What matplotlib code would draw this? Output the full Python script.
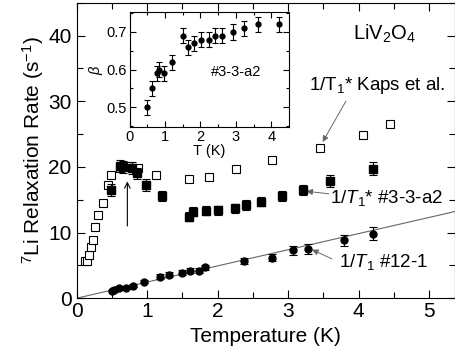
import matplotlib
matplotlib.use("Agg")
import matplotlib.pyplot as plt
import numpy as np

plt.rcParams['font.family'] = ['Liberation Sans', 'DejaVu Sans']
plt.rcParams['mathtext.fontset'] = 'custom'
plt.rcParams['mathtext.rm'] = 'Liberation Sans'
plt.rcParams['mathtext.it'] = 'Liberation Sans:italic'

# Kaps et al. 1/T1* (open squares)
kaps_T = [0.12, 0.15, 0.175, 0.2, 0.23, 0.26, 0.31, 0.38, 0.44, 0.49, 0.61, 0.73, 0.87, 1.12, 1.59, 1.88, 2.26, 2.77, 3.45, 4.07, 4.45]
kaps_R = [5.6, 5.6, 6.6, 7.8, 8.9, 10.8, 12.6, 14.5, 17.3, 18.7, 19.8, 20.2, 19.8, 18.8, 18.1, 18.5, 19.7, 21.1, 22.9, 24.9, 26.5]

# #3-3-a2 1/T1* (filled squares)
sq_T = [0.49, 0.62, 0.66, 0.78, 0.85, 0.98, 1.21, 1.59, 1.65, 1.83, 2.0, 2.25, 2.40, 2.61, 2.92, 3.21, 3.59, 4.21]
sq_R = [16.5, 20.1, 20.0, 19.8, 19.0, 17.3, 15.6, 12.4, 13.2, 13.3, 13.4, 13.7, 14.2, 14.7, 15.6, 16.5, 17.8, 19.7]
sq_err = [0.9, 0.9, 0.9, 0.9, 0.9, 0.9, 0.8, 0.7, 0.7, 0.7, 0.7, 0.7, 0.7, 0.7, 0.8, 0.8, 0.9, 1.0]

# #12-1 1/T1 (filled circles)
ci_T = [0.50, 0.53, 0.60, 0.70, 0.80, 0.95, 1.19, 1.31, 1.49, 1.61, 1.73, 1.82, 2.37, 2.77, 3.07, 3.29, 3.80, 4.21]
ci_R = [1.1, 1.2, 1.6, 1.6, 1.9, 2.5, 3.3, 3.6, 3.9, 4.2, 4.2, 4.7, 5.7, 6.2, 7.3, 7.5, 8.8, 9.8]
ci_err = [0.2, 0.2, 0.2, 0.2, 0.2, 0.2, 0.4, 0.4, 0.4, 0.4, 0.4, 0.4, 0.5, 0.6, 0.7, 0.7, 0.9, 1.0]

# linear fit line
fit_slope = 2.46
fit_T = [0.0, 5.4]

# inset: stretch exponent beta
beta_T = [0.49, 0.63, 0.77, 0.84, 0.98, 1.19, 1.50, 1.66, 1.83, 2.02, 2.25, 2.42, 2.61, 2.93, 3.22, 3.62, 4.22]
beta_v = [0.50, 0.55, 0.59, 0.60, 0.59, 0.62, 0.69, 0.66, 0.67, 0.68, 0.68, 0.69, 0.69, 0.70, 0.71, 0.72, 0.72]
beta_err = 0.02

fig = plt.figure(figsize=(4.56, 3.55), dpi=100)
ax = fig.add_axes([0.168, 0.16, 0.83, 0.832])

ax.plot(fit_T, [fit_slope * t for t in fit_T], color='#666666', lw=0.8, zorder=1)
ax.plot(kaps_T, kaps_R, 's', mfc='white', mec='black', mew=0.8, ms=5.5, ls='none', zorder=2)
ax.errorbar(sq_T, sq_R, yerr=sq_err, fmt='s', color='black', ms=6, capsize=3, elinewidth=0.8, capthick=0.8, zorder=3)
ax.errorbar(ci_T, ci_R, yerr=ci_err, fmt='o', color='black', ms=5, capsize=3, elinewidth=0.8, capthick=0.8, zorder=3)

ax.set_xlim(0, 5.37)
ax.set_ylim(0, 45)
ax.set_xticks([0, 1, 2, 3, 4, 5])
ax.set_xticks(np.arange(0.5, 5.4, 1.0), minor=True)
ax.set_yticks([0, 10, 20, 30, 40])
ax.set_yticks([5, 15, 25, 35, 45], minor=True)
ax.tick_params(which='both', direction='in', top=True, right=True, labelsize=15, width=0.8)
ax.tick_params(which='major', length=6)
ax.tick_params(which='minor', length=4)
ax.tick_params(axis='x', pad=3)
for s in ax.spines.values():
    s.set_linewidth(0.8)
ax.set_xlabel('Temperature (K)', fontsize=15, labelpad=4)
ax.set_ylabel(r'$^7$Li Relaxation Rate (s$^{-1}$)', fontsize=15, labelpad=2)

ax.text(3.92, 39.4, r'LiV$_2$O$_4$', fontsize=14.5, ha='left', va='baseline')

ax.text(3.30, 31.7, r'1/T$_1$* Kaps et al.', fontsize=13.5, ha='left', va='baseline')
ax.annotate('', xy=(3.49, 23.8), xytext=(3.82, 30.0),
            arrowprops=dict(arrowstyle='-|>', color='#666666', lw=0.7, shrinkA=0, shrinkB=0, mutation_scale=9))

ax.text(3.59, 14.5, r'1/$T_1$* #3-3-a2', fontsize=13.5, ha='left', va='baseline')
ax.annotate('', xy=(3.26, 16.3), xytext=(3.58, 15.9),
            arrowprops=dict(arrowstyle='-|>', color='#666666', lw=0.7, shrinkA=0, shrinkB=0, mutation_scale=9))

ax.text(3.72, 4.8, r'1/$T_1$ #12-1', fontsize=13.5, ha='left', va='baseline')
ax.annotate('', xy=(3.34, 7.4), xytext=(3.62, 6.0),
            arrowprops=dict(arrowstyle='-|>', color='#666666', lw=0.7, shrinkA=0, shrinkB=0, mutation_scale=9))

ax.annotate('', xy=(0.72, 17.8), xytext=(0.72, 11.0),
            arrowprops=dict(arrowstyle='->', color='black', lw=0.8, shrinkA=0, shrinkB=0, mutation_scale=10))

ins = fig.add_axes([0.284, 0.642, 0.35, 0.324])
ins.errorbar(beta_T, beta_v, yerr=beta_err, fmt='o', color='black', ms=3.5, capsize=2.5, elinewidth=0.8, capthick=0.8)
ins.set_xlim(0, 4.5)
ins.set_ylim(0.447, 0.753)
ins.set_xticks([0, 1, 2, 3, 4])
ins.set_xticks(np.arange(0.5, 4.5, 1.0), minor=True)
ins.set_yticks([0.5, 0.6, 0.7])
ins.set_yticks([0.45, 0.55, 0.65, 0.75], minor=True)
ins.tick_params(which='both', direction='in', top=True, right=True, labelsize=10.5, width=0.8)
ins.tick_params(which='major', length=4, pad=2)
ins.tick_params(which='minor', length=2.5)
for s in ins.spines.values():
    s.set_linewidth(0.8)
ins.set_xlabel('T (K)', fontsize=10.5, labelpad=0)
ins.set_ylabel(r'$\beta$', fontsize=10.5, labelpad=1)
ins.text(2.3, 0.594, '#3-3-a2', fontsize=10.5, ha='left', va='center')

fig.savefig('out.png', dpi=100)
